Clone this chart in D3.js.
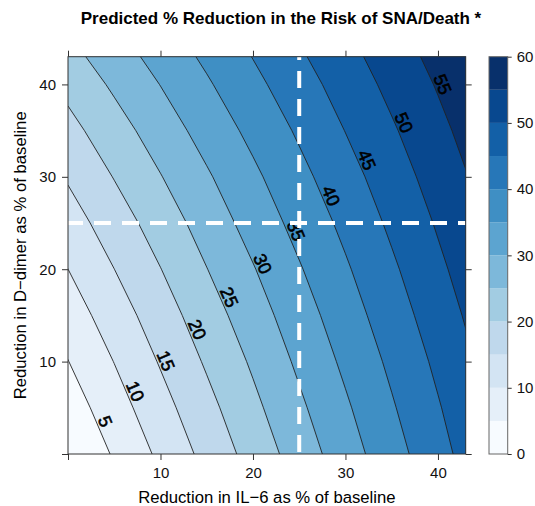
<!DOCTYPE html>
<html>
<head>
<meta charset="utf-8" />
<title>Predicted % Reduction in the Risk of SNA/Death</title>
<script src="https://d3js.org/d3.v7.min.js"></script>
<style>
    body {
        margin: 0;
        background: #fff;
        font-family: 'Liberation Sans', Arial, sans-serif;
    }
</style>
</head>
<body>
<div id="chart"></div>
<script>
    // grid: columns = IL-6 reduction, rows = D-dimer reduction
    var il6 = [0, 5, 10, 15, 20, 25, 30, 35, 40, 45];
    var ddimer = [0, 5, 10, 15, 20, 25, 30, 35, 40, 45];
    var reduction = [
        [0.0, 5.5, 11.0, 16.5, 21.9, 27.3, 32.7, 38.0, 43.3, 48.5],
        [2.4, 7.8, 13.2, 18.5, 23.8, 29.1, 34.3, 39.5, 44.6, 49.7],
        [4.9, 10.1, 15.4, 20.6, 25.7, 30.9, 36.0, 41.0, 46.0, 51.0],
        [7.4, 12.5, 17.6, 22.7, 27.7, 32.7, 37.7, 42.6, 47.5, 52.3],
        [9.99, 14.98, 19.9, 24.9, 29.7, 34.6, 39.4, 44.2, 49.0, 53.6],
        [12.7, 17.5, 22.3, 27.1, 31.9, 36.6, 41.2, 45.9, 50.5, 55.04],
        [15.5, 20.2, 24.8, 29.4, 34.0, 38.6, 43.1, 47.6, 52.1, 56.5],
        [18.4, 22.9, 27.4, 31.9, 36.3, 40.7, 45.1, 49.4, 53.7, 58.0],
        [21.4, 25.8, 30.1, 34.4, 38.7, 42.9, 47.1, 51.3, 55.4, 59.5],
        [24.6, 28.8, 32.9, 37.0, 41.1, 45.2, 49.2, 53.3, 57.2, 61.2]
    ];
    var levels = [0, 5, 10, 15, 20, 25, 30, 35, 40, 45, 50, 55];
    var bandColors = ["#f7fbff", "#e5eff9", "#d3e4f3", "#bfd8ec", "#a2cce2", "#7db8da",
        "#5ca4d0", "#3f8fc4", "#2777b8", "#1360a7", "#08488f", "#08306b"];
    var xTicks = [0, 10, 20, 30, 40];
    var yTicks = [0, 10, 20, 30, 40];
    var keyTicks = [0, 10, 20, 30, 40, 50, 60];
    var refIl6 = 25, refDdimer = 25;
    var axisMax = 43, keyMax = 60;

    var width = 535, height = 506;
    var svg = d3.select("#chart").append("svg")
        .attr("width", width).attr("height", height);

    var x = d3.scaleLinear().domain([0, axisMax]).range([68, 465.7]);
    var y = d3.scaleLinear().domain([0, axisMax]).range([454, 56.7]);

    svg.append("defs").append("clipPath").attr("id", "panel")
        .append("rect")
        .attr("x", x(0)).attr("y", y(axisMax))
        .attr("width", x(axisMax) - x(0)).attr("height", y(0) - y(axisMax));

    // contour geometry is in grid cells, cell centers at i + 0.5
    var stepX = il6[1] - il6[0], stepY = ddimer[1] - ddimer[0];
    function toData(p) {
        return [il6[0] + (p[0] - 0.5) * stepX, ddimer[0] + (p[1] - 0.5) * stepY];
    }
    var proj = d3.geoTransform({
        point: function (px, py) {
            var d = toData([px, py]);
            this.stream.point(x(d[0]), y(d[1]));
        }
    });
    var path = d3.geoPath(proj);

    var contours = d3.contours()
        .size([il6.length, ddimer.length])
        .thresholds(levels)(reduction.flat());

    var g = svg.append("g").attr("clip-path", "url(#panel)");
    g.selectAll("path.fill")
        .data(contours)
        .enter().append("path")
        .attr("class", "fill")
        .attr("d", path)
        .attr("fill", function (d, i) { return bandColors[i]; })
        .attr("stroke", "none");

    g.selectAll("path.line")
        .data(contours.filter(function (d) { return d.value > 0; }))
        .enter().append("path")
        .attr("class", "line")
        .attr("d", path)
        .attr("fill", "none")
        .attr("stroke", "#222")
        .attr("stroke-width", 0.9);

    // contour labels where each line crosses the diagonal, baseline sitting on the line
    var labels = [];
    contours.forEach(function (c) {
        if (c.value === 0) return;
        var found = null;
        c.coordinates.forEach(function (poly) {
            poly.forEach(function (ring) {
                for (var i = 1; i < ring.length && !found; i++) {
                    var a = toData(ring[i - 1]), b = toData(ring[i]);
                    var inside = [a, b].every(function (p) {
                        return p[0] >= 0 && p[1] >= 0 && p[0] <= axisMax && p[1] <= axisMax;
                    });
                    if (!inside) continue;
                    var fa = a[0] - a[1], fb = b[0] - b[1];
                    if (fa * fb <= 0 && fa !== fb) {
                        var t = fa / (fa - fb);
                        var px = x(a[0] + t * (b[0] - a[0])), py = y(a[1] + t * (b[1] - a[1]));
                        var ang = Math.atan2(y(b[1]) - y(a[1]), x(b[0]) - x(a[0])) * 180 / Math.PI;
                        if (ang > 90) ang -= 180;
                        if (ang < -90) ang += 180;
                        found = { v: c.value, x: px, y: py, a: ang };
                    }
                }
            });
        });
        if (found) labels.push(found);
    });

    g.selectAll("text.clabel")
        .data(labels)
        .enter().append("text")
        .attr("class", "clabel")
        .attr("transform", function (d) { return "translate(" + d.x + "," + d.y + ") rotate(" + d.a + ")"; })
        .attr("text-anchor", "middle")
        .attr("dy", "-0.12em")
        .style("font-size", "18px")
        .style("fill", "#000")
        .style("stroke", "#000")
        .style("stroke-width", 0.6)
        .text(function (d) { return d.v; });

    // reference lines, drawn over the labels
    g.append("line")
        .attr("x1", x(refIl6)).attr("x2", x(refIl6))
        .attr("y1", y(axisMax)).attr("y2", y(0))
        .attr("stroke", "#fff").attr("stroke-width", 4)
        .attr("stroke-dasharray", "17 11").attr("stroke-dashoffset", 13.7);
    g.append("line")
        .attr("x1", x(0)).attr("x2", x(axisMax))
        .attr("y1", y(refDdimer)).attr("y2", y(refDdimer))
        .attr("stroke", "#fff").attr("stroke-width", 4)
        .attr("stroke-dasharray", "17 11").attr("stroke-dashoffset", 2);

    // axes
    var fmt = function (d) { return d === 0 ? "" : d; };
    function styleAxis(sel) {
        sel.select(".domain").remove();
        sel.selectAll(".tick line").attr("stroke", "#333");
        sel.selectAll("text").style("font-size", "15px").style("font-family", "'Liberation Sans', Arial, sans-serif").attr("fill", "#111");
    }
    svg.append("g").attr("transform", "translate(0," + y(0) + ")")
        .call(d3.axisBottom(x).tickValues(xTicks).tickFormat(fmt).tickSize(6).tickPadding(7)).call(styleAxis);
    svg.append("g").attr("transform", "translate(0," + y(axisMax) + ")")
        .call(d3.axisTop(x).tickValues(xTicks).tickFormat("").tickSize(6)).call(styleAxis);
    svg.append("g").attr("transform", "translate(" + x(0) + ",0)")
        .call(d3.axisLeft(y).tickValues(yTicks).tickFormat(fmt).tickSize(6).tickPadding(6)).call(styleAxis);
    svg.append("g").attr("transform", "translate(" + x(axisMax) + ",0)")
        .call(d3.axisRight(y).tickValues(yTicks).tickFormat("").tickSize(6)).call(styleAxis);

    svg.append("rect")
        .attr("x", x(0)).attr("y", y(axisMax))
        .attr("width", x(axisMax) - x(0)).attr("height", y(0) - y(axisMax))
        .attr("fill", "none").attr("stroke", "#333").attr("stroke-width", 1);

    // color key
    var k = d3.scaleLinear().domain([0, keyMax]).range([y(0), y(axisMax)]);
    var keyX = 489, keyW = 18.7;
    svg.append("g").selectAll("rect")
        .data(levels)
        .enter().append("rect")
        .attr("x", keyX)
        .attr("y", function (d) { return k(d + 5); })
        .attr("width", keyW)
        .attr("height", function (d) { return k(d) - k(d + 5); })
        .attr("fill", function (d, i) { return bandColors[i]; });
    svg.append("rect")
        .attr("x", keyX).attr("y", k(keyMax))
        .attr("width", keyW).attr("height", k(0) - k(keyMax))
        .attr("fill", "none").attr("stroke", "#666").attr("stroke-width", 1);
    svg.append("g").attr("transform", "translate(" + (keyX + keyW) + ",0)")
        .call(d3.axisRight(k).tickValues(keyTicks).tickSize(4).tickPadding(5)).call(styleAxis);

    // titles
    svg.append("text")
        .attr("x", 281).attr("y", 24)
        .attr("text-anchor", "middle")
        .style("font-size", "17px").style("font-weight", "bold")
        .text("Predicted % Reduction in the Risk of SNA/Death *");
    svg.append("text")
        .attr("x", (x(0) + x(axisMax)) / 2).attr("y", 503)
        .attr("text-anchor", "middle")
        .style("font-size", "16.7px")
        .text("Reduction in IL\u22126 as % of baseline");
    svg.append("text")
        .attr("transform", "translate(26," + ((y(0) + y(axisMax)) / 2) + ") rotate(-90)")
        .attr("text-anchor", "middle")
        .style("font-size", "16.7px")
        .text("Reduction in D\u2212dimer as % of baseline");
</script>
</body>
</html>
